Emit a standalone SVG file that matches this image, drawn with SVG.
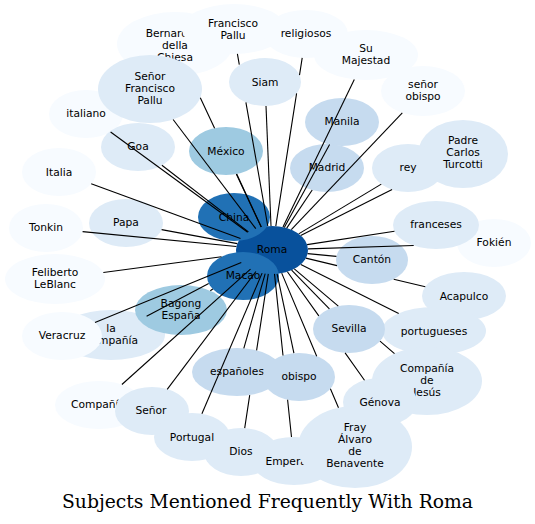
<svg xmlns="http://www.w3.org/2000/svg" width="535" height="524" viewBox="0 0 535 524">
<style>
.c0{fill:#f7fbff}.c1{fill:#deebf7}.c2{fill:#c6dbef}.c3{fill:#9ecae1}.c4{fill:#2171b5}.c5{fill:#08519c}
text.l{font-family:"DejaVu Sans",sans-serif;font-size:10.7px;text-anchor:middle;fill:#000}
.e path{fill:none;stroke:#000;stroke-width:1.1}
</style>
<rect width="535" height="524" fill="#fff"/>
<g id="nodes">
<g id="n-bernardino"><ellipse class="c0" cx="175" cy="44" rx="58" ry="32"/><text class="l" x="175" y="36.5">Bernardino</text><text class="l" x="175" y="48.5">della</text><text class="l" x="175" y="60.5">Chiesa</text></g>
<g id="n-francisco-pallu"><ellipse class="c0" cx="234" cy="29" rx="52" ry="25"/><text class="l" x="233" y="26.5">Francisco</text><text class="l" x="233" y="38.5">Pallu</text></g>
<g id="n-religiosos"><ellipse class="c0" cx="306" cy="34" rx="42" ry="24"/><text class="l" x="306" y="37">religiosos</text></g>
<g id="n-su-majestad"><ellipse class="c0" cx="366" cy="55" rx="52" ry="25"/><text class="l" x="366" y="52">Su</text><text class="l" x="366" y="64">Majestad</text></g>
<g id="n-senor-obispo"><ellipse class="c0" cx="423" cy="91" rx="42" ry="25"/><text class="l" x="423" y="88">señor</text><text class="l" x="423" y="100">obispo</text></g>
<g id="n-italiano"><ellipse class="c0" cx="86" cy="114" rx="37" ry="24"/><text class="l" x="86" y="117">italiano</text></g>
<g id="n-senor-francisco-pallu"><ellipse class="c1" cx="150" cy="89" rx="52" ry="34"/><text class="l" x="150" y="80">Señor</text><text class="l" x="150" y="92">Francisco</text><text class="l" x="150" y="104">Pallu</text></g>
<g id="n-siam"><ellipse class="c1" cx="265" cy="82" rx="36" ry="24"/><text class="l" x="265" y="86">Siam</text></g>
<g id="n-goa"><ellipse class="c1" cx="138" cy="147" rx="37" ry="24"/><text class="l" x="138" y="150">Goa</text></g>
<g id="n-mexico"><ellipse class="c3" cx="226" cy="151" rx="37" ry="24"/><text class="l" x="226" y="154.5">México</text></g>
<g id="n-manila"><ellipse class="c2" cx="342" cy="122" rx="37" ry="24"/><text class="l" x="342" y="125">Manila</text></g>
<g id="n-madrid"><ellipse class="c2" cx="327" cy="168" rx="37" ry="24"/><text class="l" x="327" y="171">Madrid</text></g>
<g id="n-padre"><ellipse class="c1" cx="463" cy="154" rx="45" ry="34"/><text class="l" x="463" y="143.5">Padre</text><text class="l" x="463" y="155.5">Carlos</text><text class="l" x="463" y="167.5">Turcotti</text></g>
<g id="n-rey"><ellipse class="c1" cx="408" cy="168" rx="36" ry="24"/><text class="l" x="408" y="171">rey</text></g>
<g id="n-italia"><ellipse class="c0" cx="59" cy="172" rx="37" ry="24"/><text class="l" x="59" y="176">Italia</text></g>
<g id="n-tonkin"><ellipse class="c0" cx="46" cy="228" rx="37" ry="24"/><text class="l" x="46" y="231">Tonkin</text></g>
<g id="n-papa"><ellipse class="c1" cx="126" cy="223" rx="37" ry="24"/><text class="l" x="126" y="226">Papa</text></g>
<g id="n-fokien"><ellipse class="c0" cx="494" cy="243" rx="37" ry="24"/><text class="l" x="494" y="246">Fokién</text></g>
<g id="n-franceses"><ellipse class="c1" cx="436" cy="225" rx="43" ry="24"/><text class="l" x="436" y="228">franceses</text></g>
<g id="n-canton"><ellipse class="c2" cx="372" cy="260" rx="36" ry="24"/><text class="l" x="372" y="263">Cantón</text></g>
<g id="n-acapulco"><ellipse class="c1" cx="464" cy="296" rx="42" ry="24"/><text class="l" x="464" y="300">Acapulco</text></g>
<g id="n-portugueses"><ellipse class="c1" cx="434" cy="331" rx="52" ry="24"/><text class="l" x="434" y="335">portugueses</text></g>
<g id="n-sevilla"><ellipse class="c2" cx="349" cy="329" rx="36" ry="24"/><text class="l" x="349" y="332">Sevilla</text></g>
<g id="n-compania-de-jesus"><ellipse class="c1" cx="427" cy="381" rx="55" ry="34"/><text class="l" x="427" y="371.5">Compañía</text><text class="l" x="427" y="383.5">de</text><text class="l" x="427" y="395.5">Jesús</text></g>
<g id="n-genova"><ellipse class="c1" cx="380" cy="402" rx="37" ry="24"/><text class="l" x="380" y="406">Génova</text></g>
<g id="n-feliberto"><ellipse class="c0" cx="55" cy="279" rx="50" ry="25"/><text class="l" x="55" y="276">Feliberto</text><text class="l" x="55" y="288">LeBlanc</text></g>
<g id="n-la-compania"><ellipse class="c1" cx="111" cy="335" rx="54" ry="25"/><text class="l" x="111" y="332">la</text><text class="l" x="111" y="344">Compañía</text></g>
<g id="n-veracruz"><ellipse class="c0" cx="62" cy="336" rx="40" ry="24"/><text class="l" x="62" y="339">Veracruz</text></g>
<g id="n-bagong"><ellipse class="c3" cx="181" cy="310" rx="46" ry="25"/><text class="l" x="181" y="307">Bagong</text><text class="l" x="181" y="319">España</text></g>
<g id="n-roma"><ellipse class="c5" cx="272" cy="250" rx="36" ry="24"/><text class="l" x="272" y="253">Roma</text></g>
<g id="n-china"><ellipse class="c4" cx="234" cy="217" rx="36" ry="24"/><text class="l" x="234" y="221">China</text></g>
<g id="n-macao"><ellipse class="c4" cx="243" cy="276" rx="36" ry="24"/><text class="l" x="243" y="279">Macao</text></g>
<g id="n-espanoles"><ellipse class="c2" cx="237" cy="372" rx="45" ry="24"/><text class="l" x="237" y="375">españoles</text></g>
<g id="n-obispo"><ellipse class="c2" cx="299" cy="377" rx="36" ry="24"/><text class="l" x="299" y="380">obispo</text></g>
<g id="n-compania"><ellipse class="c0" cx="99" cy="405" rx="44" ry="24"/><text class="l" x="98" y="408">Compañía</text></g>
<g id="n-senor"><ellipse class="c1" cx="152" cy="411" rx="37" ry="24"/><text class="l" x="151" y="414">Señor</text></g>
<g id="n-dios"><ellipse class="c1" cx="241" cy="452" rx="37" ry="24"/><text class="l" x="241" y="455">Dios</text></g>
<g id="n-portugal"><ellipse class="c1" cx="192" cy="437" rx="38" ry="24"/><text class="l" x="192" y="441">Portugal</text></g>
<g id="n-emperador"><ellipse class="c1" cx="294" cy="461" rx="42" ry="24"/><text class="l" x="295" y="464.5">Emperador</text></g>
<g id="n-fray"><ellipse class="c1" cx="355" cy="447" rx="57" ry="41"/><text class="l" x="355" y="431">Fray</text><text class="l" x="355" y="443">Álvaro</text><text class="l" x="355" y="455">de</text><text class="l" x="355" y="467">Benavente</text></g>
</g>
<g id="edges" class="e">
<path d="M200.3,97.7 L214.6,128.2 M236.3,174.1 L261.2,227.1"/>
<path d="M237.4,53.9 L239.3,64.7 M245.9,102.4 L267.8,226.2"/>
<path d="M302.2,57.9 L299.5,75.2 M296.6,93.4 L275.8,226.1"/>
<path d="M354.3,79.4 L283.0,227.1"/>
<path d="M402.3,112.8 L291.3,229.7"/>
<path d="M173.1,119.5 L255.8,228.6"/>
<path d="M266.0,106.0 L271.0,226.0"/>
<path d="M110.6,132.0 L247.7,232.3"/>
<path d="M236.7,174.0 L261.3,227.1"/>
<path d="M329.6,144.6 L284.3,227.4"/>
<path d="M161.9,165.3 L248.4,231.9"/>
<path d="M312.2,190.0 L286.7,228.1"/>
<path d="M381.3,184.1 L298.7,233.9"/>
<path d="M392.1,189.6 L300.7,235.6"/>
<path d="M91.2,183.8 L240.5,238.4"/>
<path d="M161.6,229.6 L237.3,243.6"/>
<path d="M82.6,231.6 L236.4,246.5"/>
<path d="M394.5,231.3 L307.1,244.6"/>
<path d="M413.7,245.5 L308.0,248.9"/>
<path d="M336.4,256.4 L307.6,253.6"/>
<path d="M103.3,272.5 L221.5,256.7"/>
<path d="M305.9,258.1 L337.0,265.6 M393.7,279.2 L425.3,286.7"/>
<path d="M210.3,290.7 L212.8,289.0"/>
<path d="M146.6,316.2 L208.7,283.4"/>
<path d="M95.0,322.5 L241.3,262.6"/>
<path d="M329.4,308.9 L291.6,270.1"/>
<path d="M398.7,313.4 L300.8,264.4"/>
<path d="M294.3,268.8 L338.3,306.1 M380.0,341.2 L394.5,353.6"/>
<path d="M243.8,348.3 L265.2,273.6"/>
<path d="M293.9,353.2 L277.1,273.8"/>
<path d="M121.9,384.5 L250.5,269.2"/>
<path d="M167.2,389.4 L255.9,271.5"/>
<path d="M287.4,271.7 L318.8,315.9 M345.1,352.9 L364.5,380.2"/>
<path d="M201.9,413.8 L262.1,273.1"/>
<path d="M268.3,273.9 L256.6,350.4 M249.7,395.1 L244.7,428.1"/>
<path d="M274.5,273.9 L283.0,355.5 M287.6,399.8 L291.5,437.0"/>
<path d="M281.7,273.1 L316.7,356.2 M330.4,388.7 L338.5,407.8"/>
</g>
<text x="267.5" y="507.5" font-family="DejaVu Serif, serif" font-size="18.8" text-anchor="middle" textLength="411" lengthAdjust="spacingAndGlyphs" fill="#000">Subjects Mentioned Frequently With Roma</text>
</svg>
